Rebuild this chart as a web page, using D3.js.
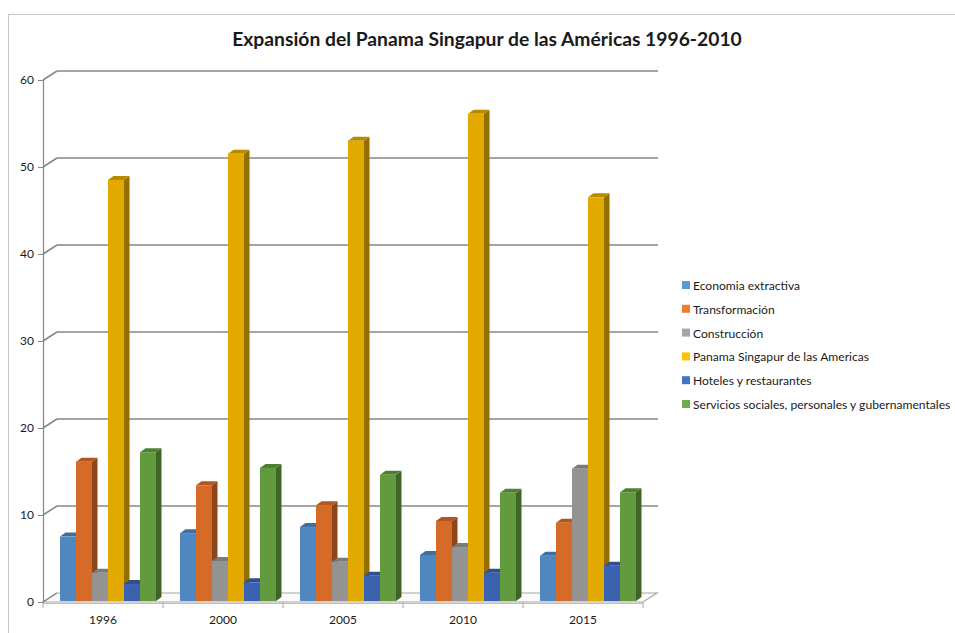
<!DOCTYPE html>
<meta charset="utf-8">
<style>
body { margin: 0; background: #fff; }
text { font-family: Lato, "Open Sans", sans-serif; fill: #1a1a1a; }
.grid line { stroke: #868686; stroke-width: 1.5; }
</style>
<svg width="955" height="633"></svg>
<script src="https://d3js.org/d3.v7.min.js"></script>
<script>

var years = ["1996", "2000", "2005", "2010", "2015"];
var seriesNames = ["Economia extractiva", "Transformación", "Construcción",
  "Panama Singapur de las Americas", "Hoteles y restaurantes",
  "Servicios sociales, personales y gubernamentales"];
var extractiva = [7.4, 7.8, 8.5, 5.3, 5.2];
var transformacion = [16.0, 13.3, 11.0, 9.2, 9.0];
var construccion = [3.25, 4.6, 4.5, 6.2, 15.2];
var panama = [48.4, 51.4, 52.9, 56.0, 46.4];
var hoteles = [1.95, 2.15, 2.9, 3.25, 4.05];
var servicios = [17.1, 15.3, 14.5, 12.45, 12.5];
var yTicks = [0, 10, 20, 30, 40, 50, 60];

var seriesValues = [extractiva, transformacion, construccion, panama, hoteles, servicios];
// front, side, top colours per series
var faces = [
  ["#4f88c1", "#34608e", "#3d6fa3"],
  ["#d66b27", "#8c461a", "#b0561e"],
  ["#939393", "#656565", "#7a7a7a"],
  ["#e2aa00", "#936e00", "#b88a00"],
  ["#3b62b0", "#27417a", "#304f93"],
  ["#619b3d", "#3e6528", "#4f8031"]
];
var legendColors = ["#5b9bd5", "#ed7d31", "#a5a5a5", "#ffc000", "#4472c4", "#70ad47"];

var svg = d3.select("svg");

// chart border (cropped)
svg.append("rect").attr("x", 8.5).attr("y", 14.5).attr("width", 960).attr("height", 640)
  .attr("fill", "none").attr("stroke", "#c8c8c8");

svg.append("text").attr("x", 487).attr("y", 46).attr("text-anchor", "middle")
  .attr("font-size", "19.3px").attr("font-weight", "bold")
  .text("Expansión del Panama Singapur de las Américas 1996-2010");

var depthX = 14, depthY = -9;
var left = 43, right = 643;
var y = d3.scaleLinear().domain([0, 60]).range([602, 80]);
var yBar = d3.scaleLinear().domain([0, 60]).range([601, 79]);
var x = d3.scaleBand().domain(years).range([left, right]);
var xs = d3.scaleBand().domain(d3.range(6)).range([17, 113]);

// floor
svg.append("polygon")
  .attr("points", [[left, y(0)], [right, y(0)], [right + depthX, y(0) + depthY], [left + depthX, y(0) + depthY]].join(" "))
  .attr("fill", "#fafafa").attr("stroke", "#a6a6a6").attr("stroke-width", 1.2);
svg.append("line").attr("x1", left).attr("x2", right).attr("y1", y(0) + 1.5).attr("y2", y(0) + 1.5)
  .attr("stroke", "#bfbfbf");

// back wall gridlines
var grid = svg.append("g").attr("class", "grid");
grid.selectAll(".h").data(yTicks.slice(1)).join("line")
  .attr("x1", left + depthX).attr("x2", right + depthX + 1)
  .attr("y1", function(d) { return y(d) + depthY; })
  .attr("y2", function(d) { return y(d) + depthY; });
grid.selectAll(".s").data(yTicks.slice(1)).join("line")
  .attr("x1", left).attr("x2", left + depthX)
  .attr("y1", function(d) { return y(d); })
  .attr("y2", function(d) { return y(d) + depthY; });

// left axis
var yAxis = svg.append("g").attr("transform", "translate(" + left + ",0)")
  .call(d3.axisLeft(y).tickValues(yTicks).tickSize(5).tickPadding(4));
yAxis.select(".domain").attr("stroke", "#868686").attr("stroke-width", 1.2);
yAxis.selectAll(".tick line").attr("stroke", "#868686");
yAxis.selectAll(".tick text").attr("font-size", "12px").attr("font-family", "Lato, 'Open Sans', sans-serif").attr("fill", "#1a1a1a");
svg.append("line").attr("x1", left).attr("x2", left + depthX)
  .attr("y1", y(0)).attr("y2", y(0) + depthY).attr("stroke", "#868686").attr("stroke-width", 1.2);

// bottom axis
var xAxis = svg.append("g").attr("transform", "translate(0," + (y(0) + 1) + ")")
  .call(d3.axisBottom(x).tickSize(0).tickPadding(12));
xAxis.select(".domain").remove();
xAxis.selectAll(".tick text").attr("font-size", "12px").attr("font-family", "Lato, 'Open Sans', sans-serif").attr("fill", "#1a1a1a");
svg.append("g").selectAll("line").data(d3.range(6)).join("line")
  .attr("x1", function(i) { return left + i * x.step(); })
  .attr("x2", function(i) { return left + i * x.step(); })
  .attr("y1", y(0)).attr("y2", y(0) + 6)
  .attr("stroke", "#a6a6a6");

// bars
var bw = xs.bandwidth(), bdx = 5.5, bdy = -4;
var bars = [];
years.forEach(function(yr, j) {
  seriesValues.forEach(function(vals, i) {
    bars.push({ year: yr, s: i, v: vals[j] });
  });
});
var bg = svg.append("g").selectAll("g").data(bars).join("g");
bg.each(function(d) {
  var g = d3.select(this);
  var x0 = x(d.year) + xs(d.s), x1 = x0 + bw;
  var yt = yBar(d.v), yb = yBar(0);
  g.append("polygon")
    .attr("points", [[x1, yt], [x1 + bdx, yt + bdy], [x1 + bdx, yb + bdy], [x1, yb]].join(" "))
    .attr("fill", faces[d.s][1]);
  g.append("polygon")
    .attr("points", [[x0, yt], [x0 + bdx, yt + bdy], [x1 + bdx, yt + bdy], [x1, yt]].join(" "))
    .attr("fill", faces[d.s][2]);
  g.append("rect").attr("x", x0).attr("y", yt).attr("width", bw).attr("height", yb - yt)
    .attr("fill", faces[d.s][0]);
});

// legend
var legend = svg.append("g").selectAll("g").data(seriesNames).join("g")
  .attr("transform", function(d, i) { return "translate(682," + (286 + i * 23.8) + ")"; });
legend.append("rect").attr("x", 0).attr("y", -5).attr("width", 8).attr("height", 8)
  .attr("fill", function(d, i) { return legendColors[i]; });
legend.append("text").attr("x", 11).attr("y", 4).attr("font-size", "12.1px")
  .text(function(d) { return d; });

</script>
